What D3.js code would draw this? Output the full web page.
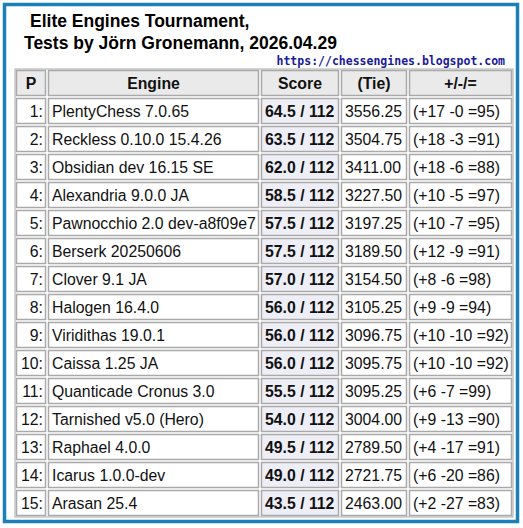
<!DOCTYPE html>
<html><head><meta charset="utf-8">
<script src="https://cdn.jsdelivr.net/npm/d3@7"></script>
<style>body{margin:0;background:#fff}</style></head>
<body><svg id="c" width="523" height="528"></svg>
<script>
const headers = ["P","Engine","Score","(Tie)","+/-/="];
const engines = ["PlentyChess 7.0.65","Reckless 0.10.0 15.4.26","Obsidian dev 16.15 SE","Alexandria 9.0.0 JA","Pawnocchio 2.0 dev-a8f09e7","Berserk 20250606","Clover 9.1 JA","Halogen 16.4.0","Viridithas 19.0.1","Caissa 1.25 JA","Quanticade Cronus 3.0","Tarnished v5.0 (Hero)","Raphael 4.0.0","Icarus 1.0.0-dev","Arasan 25.4"];
const scores = [64.5,63.5,62.0,58.5,57.5,57.5,57.0,56.0,56.0,56.0,55.5,54.0,49.5,49.0,43.5];
const games = 112;
const ties = ["3556.25","3504.75","3411.00","3227.50","3197.25","3189.50","3154.50","3105.25","3096.75","3095.75","3095.25","3004.00","2789.50","2721.75","2463.00"];
const results = ["(+17 -0 =95)","(+18 -3 =91)","(+18 -6 =88)","(+10 -5 =97)","(+10 -7 =95)","(+12 -9 =91)","(+8 -6 =98)","(+9 -9 =94)","(+10 -10 =92)","(+10 -10 =92)","(+6 -7 =99)","(+9 -13 =90)","(+4 -17 =91)","(+6 -20 =86)","(+2 -27 =83)"];

const svg = d3.select("#c");
svg.append("rect").attr("x",4.5).attr("y",4.5).attr("width",513).attr("height",517)
  .attr("fill","#fff").attr("stroke","#1b80b8").attr("stroke-width",3.5);
const F = "'Liberation Sans', Arial, sans-serif";
svg.append("text").attr("x",30).attr("y",27).text("Elite Engines Tournament,")
  .attr("font-family",F).attr("font-weight","bold").attr("font-size",17.5);
svg.append("text").attr("x",24).attr("y",49).text("Tests by Jörn Gronemann, 2026.04.29")
  .attr("font-family",F).attr("font-weight","bold").attr("font-size",17.5);
svg.append("text").attr("x",505).attr("y",65).attr("text-anchor","end").text("https://chessengines.blogspot.com")
  .attr("font-family","'DejaVu Sans Mono', monospace").attr("font-weight","bold").attr("font-size",11.5).attr("fill","#1a1a9a");

const colEdges = [15,47,260,340,408,513];
const rows = ["h"].concat(d3.range(15));
const y = d3.scaleBand().domain(rows).range([69,517]);
svg.append("rect").attr("x",15).attr("y",69).attr("width",498).attr("height",448)
  .attr("fill","none").attr("stroke","#aaa").attr("stroke-width",1);
const cellData = [];
rows.forEach((r)=>{
  for(let c=0;c<5;c++){
    let txt, anchor="start", bold=false, bg="#fff";
    if(r==="h"){txt=headers[c]; anchor="middle"; bold=true; bg="#eaeaea";}
    else{
      const i=r;
      txt=[ (i+1)+":", engines[i], scores[i].toFixed(1)+" / "+games, ties[i], results[i]][c];
      if(c===0) anchor="end";
      if(c===2){bold=true; bg="#eeeef6";}
    }
    cellData.push({r,c,txt,anchor,bold,bg});
  }
});
const g = svg.selectAll("g.cell").data(cellData).join("g").attr("class","cell");
g.append("rect")
  .attr("x",d=>colEdges[d.c]+1.5).attr("y",d=>y(d.r)+1.5)
  .attr("width",d=>colEdges[d.c+1]-colEdges[d.c]-3).attr("height",y.bandwidth()-3)
  .attr("fill",d=>d.bg).attr("stroke","#a9a9a9").attr("stroke-width",1.5);
g.append("text")
  .attr("x",d=>d.anchor==="middle"?(colEdges[d.c]+colEdges[d.c+1])/2:d.anchor==="end"?colEdges[d.c+1]-4:colEdges[d.c]+5)
  .attr("y",d=>y(d.r)+y.bandwidth()/2+5.7)
  .attr("text-anchor",d=>d.anchor)
  .attr("font-family",F).attr("font-size",15.8)
  .attr("font-weight",d=>d.bold?"bold":"normal").attr("fill","#111")
  .text(d=>d.txt);
</script></body></html>
